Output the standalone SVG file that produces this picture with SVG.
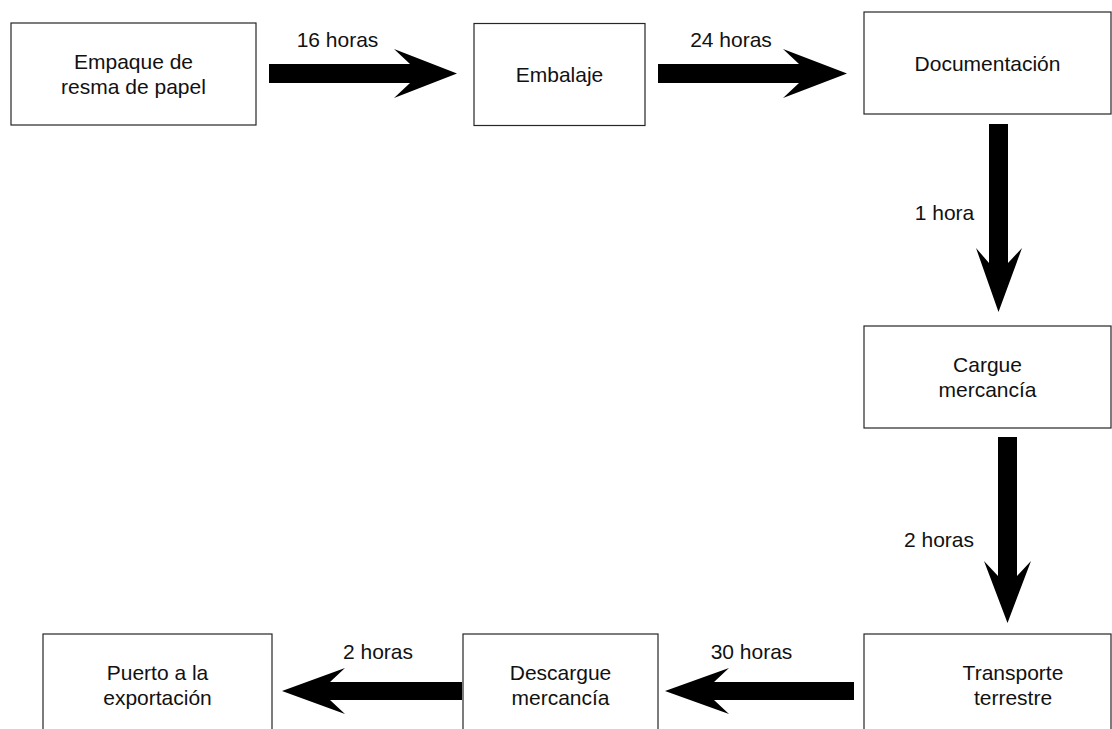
<svg xmlns="http://www.w3.org/2000/svg" width="1112" height="729" viewBox="0 0 1112 729">
<style>
.box{fill:#fff;stroke:#262626;stroke-width:1.2}
.t{font-family:"Liberation Sans",Arial,sans-serif;font-size:21px;fill:#111;text-anchor:middle}
.arr{fill:#000;stroke:none}
</style>
<rect width="1112" height="729" fill="#fff"/>
<g id="connectors">
<path class="arr" d="M269,64 L410,64 L394,49 L457,73.5 L394,98 L410,83 L269,83 Z"/>
<path class="arr" d="M658,64 L799,64 L783,49 L847,73.5 L783,98 L799,83 L658,83 Z"/>
<path class="arr" d="M989,124 L989,263 L976,248 L998.5,312 L1022,248 L1008,263 L1008,124 Z"/>
<path class="arr" d="M998,437 L998,576 L984,561 L1007.5,623 L1031,561 L1017,576 L1017,437 Z"/>
<path class="arr" d="M854,682 L714,682 L729,668 L665,691 L729,714 L714,700 L854,700 Z"/>
<path class="arr" d="M462,682 L330,682 L345,668 L282,691 L345,714 L330,700 L462,700 Z"/>
<text class="t" x="337.5" y="47">16 horas</text>
<text class="t" x="731" y="47">24 horas</text>
<text class="t" x="944.5" y="220">1 hora</text>
<text class="t" x="939" y="547">2 horas</text>
<text class="t" x="751.5" y="659">30 horas</text>
<text class="t" x="378" y="659">2 horas</text>
</g>
<g id="n1"><rect class="box" x="11" y="23" width="245" height="102"/><text class="t" x="133.5" y="69">Empaque de</text><text class="t" x="133.5" y="94">resma de papel</text></g>
<g id="n2"><rect class="box" x="474" y="23.5" width="171" height="102"/><text class="t" x="559.5" y="82">Embalaje</text></g>
<g id="n3"><rect class="box" x="864" y="12" width="247" height="102"/><text class="t" x="987.5" y="71">Documentación</text></g>
<g id="n4"><rect class="box" x="864" y="326" width="247" height="102"/><text class="t" x="987.5" y="372">Cargue</text><text class="t" x="987.5" y="397">mercancía</text></g>
<g id="n5"><rect class="box" x="864" y="634" width="247" height="102"/><text class="t" x="1013" y="680">Transporte</text><text class="t" x="1013" y="705">terrestre</text></g>
<g id="n6"><rect class="box" x="463" y="634" width="195" height="102"/><text class="t" x="560.5" y="680">Descargue</text><text class="t" x="560.5" y="705">mercancía</text></g>
<g id="n7"><rect class="box" x="43" y="634" width="229" height="102"/><text class="t" x="157.5" y="680">Puerto a la</text><text class="t" x="157.5" y="705">exportación</text></g>
</svg>
